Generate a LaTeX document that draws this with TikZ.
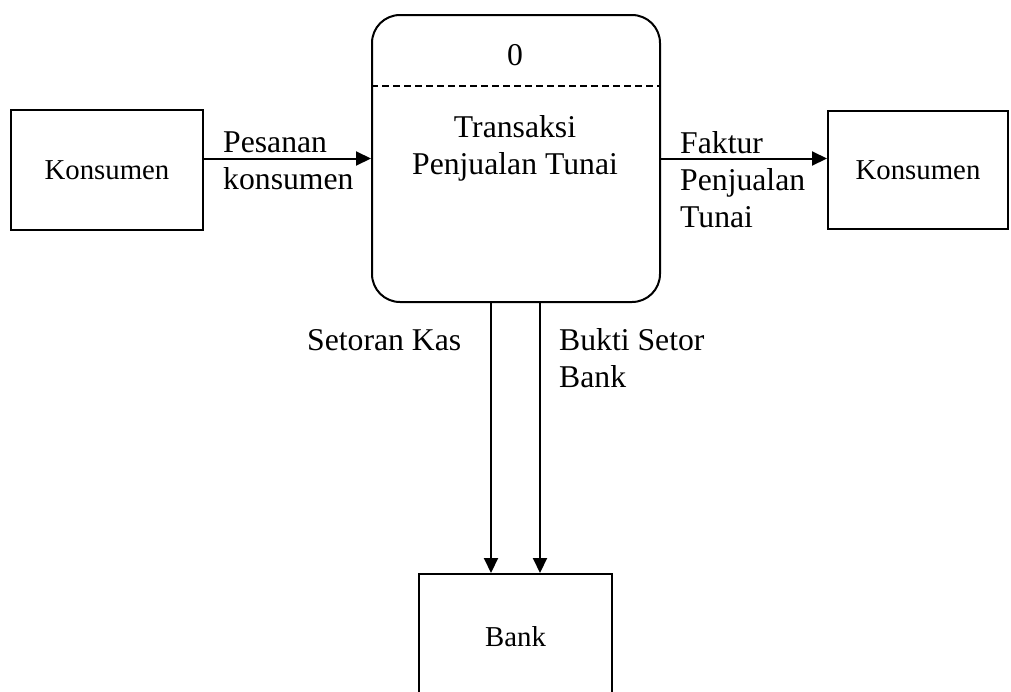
\documentclass[tikz,border=0pt]{standalone}
\usepackage{fontspec}
\setmainfont{Liberation Serif}
\usetikzlibrary{arrows.meta}
\begin{document}
\begin{tikzpicture}[x=1pt,y=-1pt,
  every node/.style={inner sep=0pt},
  ent/.style={draw, line width=2pt, font=\fontsize{28.8}{34}\selectfont},
  proc/.style={draw, line width=2pt, rounded corners=28pt},
  lbl/.style={font=\fontsize{31.7}{37}\selectfont, align=left},
  flow/.style={line width=2pt, -{Triangle[length=15pt,width=14pt]}}]
\useasboundingbox (0,0) rectangle (1011,691);
\node[ent, minimum width=192pt, minimum height=120pt] (k1) at (107,170) {Konsumen};
\node[ent, minimum width=180pt, minimum height=118pt] (k2) at (918,170) {Konsumen};
\node[ent, minimum width=193pt, minimum height=126pt] (bank) at (515.5,637) {Bank};
\node[proc, minimum width=288pt, minimum height=287pt] (proc) at (516,158.5) {};
\draw[line width=2pt, dash pattern=on 7pt off 4pt] (proc.west |- 0,86) coordinate (dl) -- (proc.east |- 0,86) coordinate (dr);
\node[lbl] (pid) at (515,55) {0};
\node[lbl, align=center] (pname) at (515,148) {Transaksi\\Penjualan Tunai};
\draw[flow] (proc.west -| k1.east) -- (proc.west);
\draw[flow] (proc.east) -- (proc.east -| k2.west);
\draw[flow] ([xshift=-25pt]proc.south) -- ([xshift=-25pt]proc.south |- bank.north);
\draw[flow] ([xshift=24pt]proc.south) -- ([xshift=24pt]proc.south |- bank.north);
\node[lbl, anchor=west] (l1) at (223,160.5) {Pesanan\\konsumen};
\node[lbl, anchor=west] (l2) at (680,180) {Faktur\\Penjualan\\Tunai};
\node[lbl, anchor=west] (l3) at (307,340) {Setoran Kas};
\node[lbl, anchor=west] (l4) at (559,358.5) {Bukti Setor\\Bank};
\end{tikzpicture}
\end{document}
